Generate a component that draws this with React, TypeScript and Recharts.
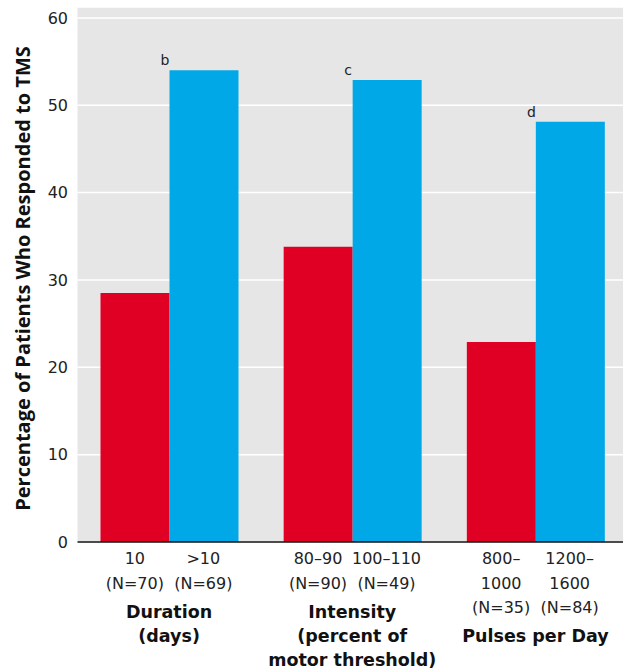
import { BarChart, Bar, XAxis, YAxis, CartesianGrid, LabelList } from 'recharts';

const groups = ['Duration', 'Intensity', 'Pulses'];
const groupTitles = [['Duration', '(days)'], ['Intensity', '(percent of', 'motor threshold)'], ['Pulses per Day']];
const lowLabels = [['10', '(N=70)'], ['80–90', '(N=90)'], ['800–', '1000', '(N=35)']];
const highLabels = [['>10', '(N=69)'], ['100–110', '(N=49)'], ['1200–', '1600', '(N=84)']];
const lowValues = [28.5, 33.8, 22.9];
const highValues = [54.0, 52.9, 48.1];
const notes = ['b', 'c', 'd'];
const yTicks = [0, 10, 20, 30, 40, 50, 60];

const data = groups.map((g, i) => ({ group: g, low: lowValues[i], high: highValues[i] }));

const TICK_FONT = '"DejaVu Sans", sans-serif';
const LABEL_FONT = '"Open Sans", sans-serif';
const RED = '#df0024';
const BLUE = '#00a8e8';
const HALF_BAR = 34.25;

function GroupTick(props: any) {
  const { x, y, payload } = props;
  const i = payload.index;
  const n = Math.max(lowLabels[i].length, highLabels[i].length);
  const sub = (lines: string[], cx: number) =>
    lines.map((t, j) => (
      <text key={t + j} x={cx} y={y + 22 + j * 24.5} textAnchor="middle" fontSize={16} fill="#222">
        {t}
      </text>
    ));
  return (
    <g fontFamily={TICK_FONT}>
      {sub(lowLabels[i], x - HALF_BAR)}
      {sub(highLabels[i], x + HALF_BAR)}
      {groupTitles[i].map((t, j) => (
        <text key={t} x={x} y={y + 22 + n * 24.5 + 4.5 + j * 24} textAnchor="middle" fontSize={17.5} fontWeight="bold" fill="#111">
          {t}
        </text>
      ))}
    </g>
  );
}

export default function App() {
  return (
    <div style={{ position: 'absolute', left: 0, top: 0, width: 623, height: 671, overflow: 'hidden', background: '#fff' }}>
      <BarChart
        width={627}
        height={671}
        data={data}
        margin={{ top: 7, right: 0, left: 0, bottom: 0 }}
        barCategoryGap={23}
        barGap={0}
      >
        <CartesianGrid vertical={false} fill="#e6e6e6" stroke="#ffffff" strokeWidth={1.5} />
        <XAxis
          dataKey="group"
          height={129}
          tickSize={0}
          tickMargin={0}
          tickLine={false}
          axisLine={{ stroke: '#111', strokeWidth: 1.5 }}
          tick={<GroupTick />}
          interval={0}
        />
        <YAxis
          width={77.5}
          domain={[0, 61.25]}
          ticks={yTicks}
          allowDataOverflow
          axisLine={false}
          tickLine={false}
          tickMargin={3.5}
          tick={{ fontSize: 16, fill: '#222', fontFamily: TICK_FONT }}
          label={{
            value: 'Percentage of Patients Who Responded to TMS',
            angle: -90,
            position: 'insideLeft',
            dx: 18,
            dy: 4,
            style: { textAnchor: 'middle', fontSize: 20, fontWeight: 'bold', fill: '#111', fontFamily: LABEL_FONT },
          }}
        />
        <Bar dataKey="low" fill={RED} isAnimationActive={false} />
        <Bar dataKey="high" fill={BLUE} isAnimationActive={false}>
          <LabelList
            dataKey="high"
            content={(p: any) => (
              <text x={p.x - 4.5} y={p.y - 5} textAnchor="middle" fontSize={14} fill="#222" fontFamily={TICK_FONT}>
                {notes[p.index]}
              </text>
            )}
          />
        </Bar>
      </BarChart>
    </div>
  );
}
